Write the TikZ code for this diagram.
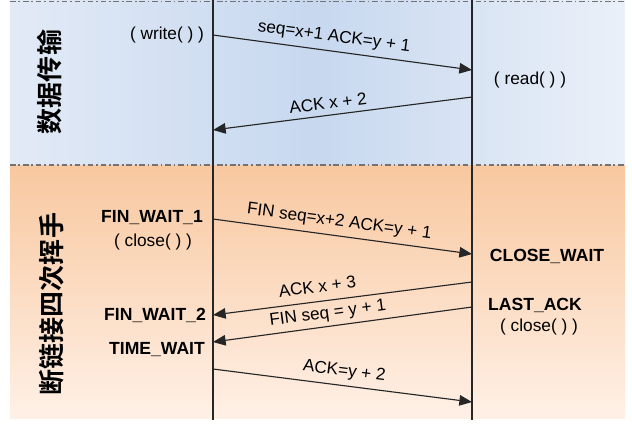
\documentclass[tikz,border=0pt]{standalone}
\usepackage{fontspec}
\setmainfont{Liberation Sans}
\newfontfamily\cjk{Noto Sans CJK SC}[BoldFont={Noto Sans CJK SC Bold}]
\usepackage{xcolor}
\usetikzlibrary{arrows.meta,positioning,calc}
\definecolor{bandblueL}{HTML}{E2EAF6}
\definecolor{bandblueM}{HTML}{C7D8EF}
\definecolor{bandorgT}{HTML}{F8C8A0}
\definecolor{bandorgB}{HTML}{FFF0E6}

\begin{document}
\begin{tikzpicture}[
  msg/.style={-{Triangle[length=9pt,width=7.5pt]},line width=0.8pt,draw=black!85},
  lbl/.style={font=\fontsize{12.2}{13}\selectfont,sloped,above=3.5pt,inner sep=0.5pt},
  st/.style={font=\fontsize{12.5}{14}\selectfont\bfseries,inner sep=1pt},
  call/.style={font=\fontsize{12.3}{14}\selectfont,inner sep=1pt},
  phase/.style={font=\fontsize{18.5}{20}\cjk\bfseries,rotate=90},
  sep/.style={draw=black!55,line width=0.9pt,dash pattern=on 4pt off 2pt on 1.2pt off 2pt}]
 \useasboundingbox (0,0) rectangle (15.8,-10.725);
 % background bands
 \shade[left color=bandblueL,right color=bandblueL!70!white,middle color=bandblueM] (0.25,0) rectangle (15.625,-4.125);
 \shade[top color=bandorgT,bottom color=bandorgB] (0.25,-4.125) rectangle (15.625,-10.45);
 \draw[sep] (0.25,-0.04)--(15.625,-0.04);
 \draw[sep] (0.25,-4.125)--(15.625,-4.125);
 % the two sides
 \coordinate (lt) at (5.325,0);   \coordinate (lb) at (5.325,-10.5);
 \coordinate (rt) at (11.8,0);    \coordinate (rb) at (11.8,-10.5);
 \draw[line width=1pt,black!85] (lt)--(lb);
 \draw[line width=1pt,black!85] (rt)--(rb);
 % end points of the messages
 \coordinate (s1) at (5.325,-0.875);  \coordinate (r1) at (11.8,-1.75);
 \coordinate (s2) at (11.8,-2.425);   \coordinate (r2) at (5.325,-3.25);
 \coordinate (s3) at (5.325,-5.475);  \coordinate (r3) at (11.8,-6.35);
 \coordinate (s4) at (11.8,-7.05);    \coordinate (r4) at (5.325,-7.875);
 \coordinate (s5) at (11.8,-7.675);   \coordinate (r5) at (5.325,-8.55);
 \coordinate (s6) at (5.325,-9.225);  \coordinate (r6) at (11.8,-10.05);
 % phases
 \node[phase] (data) at (1.25,-2.05) {数据传输};
 \node[phase] (bye)  at (1.3,-7.6) {断链接四次挥手};
 % states and calls
 \node[call] (write) at (4.175,-0.875) {( write( ) )};
 \node[call] (read)  at (13.25,-2.0) {( read( ) )};
 \node[st]   (fw1)   at (3.8,-5.45) {FIN\_WAIT\_1};
 \node[call] (clo1)  at (3.825,-6.05) {( close( ) )};
 \node[st]   (cw)    at (13.675,-6.4) {CLOSE\_WAIT};
 \node[st]   (la)    at (13.375,-7.625) {LAST\_ACK};
 \node[call] (clo2)  at (13.475,-8.175) {( close( ) )};
 \node[st]   (fw2)   at (3.875,-7.875) {FIN\_WAIT\_2};
 \node[st]   (tw)    at (3.925,-8.75) {TIME\_WAIT};
 % messages
 \draw[msg] (s1)--(r1) node[lbl,pos=0.46]{seq=x+1 ACK=y + 1};
 \draw[msg] (s2)--(r2) node[lbl,pos=0.55]{ACK x + 2};
 \draw[msg] (s3)--(r3) node[lbl,pos=0.48]{FIN seq=x+2 ACK=y + 1};
 \draw[msg] (s4)--(r4) node[lbl,pos=0.59,above=5.5pt]{ACK x + 3};
 \draw[msg] (s5)--(r5) node[lbl,pos=0.55,above=2.5pt]{FIN seq = y + 1};
 \draw[msg] (s6)--(r6) node[lbl,pos=0.5]{ACK=y + 2};
\end{tikzpicture}
\end{document}
